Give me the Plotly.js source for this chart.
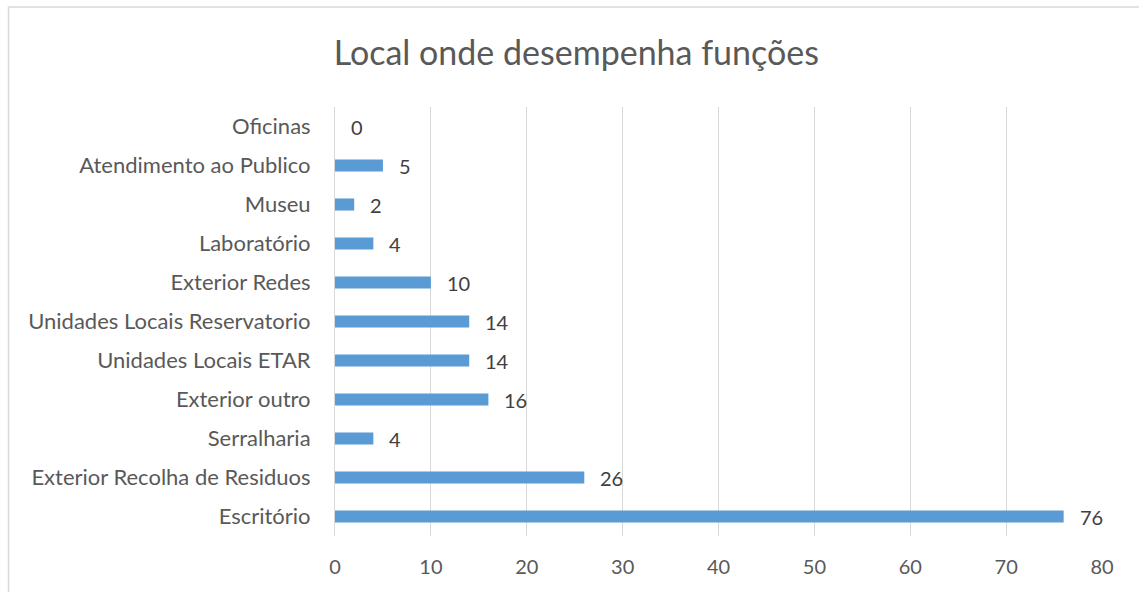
<!DOCTYPE html>
<html>
<head>
<meta charset="utf-8">
<script src="https://cdn.plot.ly/plotly-3.0.1.min.js"></script>
<style>html,body{margin:0;padding:0;background:#fff;}#chart{width:1139px;height:592px;}</style>
</head>
<body>
<div id="chart"></div>
<script>
const categories = ["Escritório","Exterior Recolha de Residuos","Serralharia","Exterior outro","Unidades Locais ETAR","Unidades Locais Reservatorio","Exterior Redes","Laboratório","Museu","Atendimento ao Publico","Oficinas"];
const values = [76,26,4,16,14,14,10,4,2,5,0];
const xTicks = [0,10,20,30,40,50,60,70,80];
const chartTitle = "Local onde desempenha funções";

const FONT = "Lato, 'Open Sans', sans-serif";
const trace = {
  type: "bar",
  orientation: "h",
  x: values,
  y: categories,
  marker: {color: "#5B9BD5"},
  hoverinfo: "x+y"
};
const annotations = categories.map((c, i) => ({
  x: values[i], y: c, xref: "x", yref: "y",
  text: String(values[i]), showarrow: false,
  xanchor: "left", xshift: 14,
  font: {family: FONT, size: 20, color: "#404040"}
}));
const layout = {
  width: 1139, height: 592,
  margin: {l: 335, r: 37, t: 107, b: 56, pad: 0},
  paper_bgcolor: "#fff", plot_bgcolor: "#fff",
  showlegend: false,
  bargap: 0.69,
  title: {text: chartTitle, x: 0.506, xref: "container", y: 0.91, yref: "container", yanchor: "middle",
          font: {family: FONT, size: 34, color: "#595959"}},
  xaxis: {range: [0, 80], tickvals: xTicks, showgrid: true, gridcolor: "#D9D9D9", gridwidth: 1,
          zeroline: false, showline: false, ticks: "", ticklabelstandoff: 17,
          tickfont: {family: FONT, size: 20, color: "#595959"}, fixedrange: true},
  yaxis: {type: "category", categoryorder: "array", categoryarray: categories, showgrid: false,
          zeroline: false, showline: true, linecolor: "#D9D9D9", linewidth: 1, ticks: "",
          ticklabelstandoff: 19, tickfont: {family: FONT, size: 22, color: "#595959"}, fixedrange: true},
  annotations: annotations,
  shapes: [{type: "rect", xref: "paper", yref: "paper", x0: -0.4257, x1: 1.06, y0: -0.16, y1: 1.2331,
            line: {color: "#D9D9D9", width: 1.5}, fillcolor: "rgba(0,0,0,0)", layer: "below"}]
};
Plotly.newPlot("chart", [trace], layout, {displayModeBar: false, staticPlot: true});
</script>
</body>
</html>
